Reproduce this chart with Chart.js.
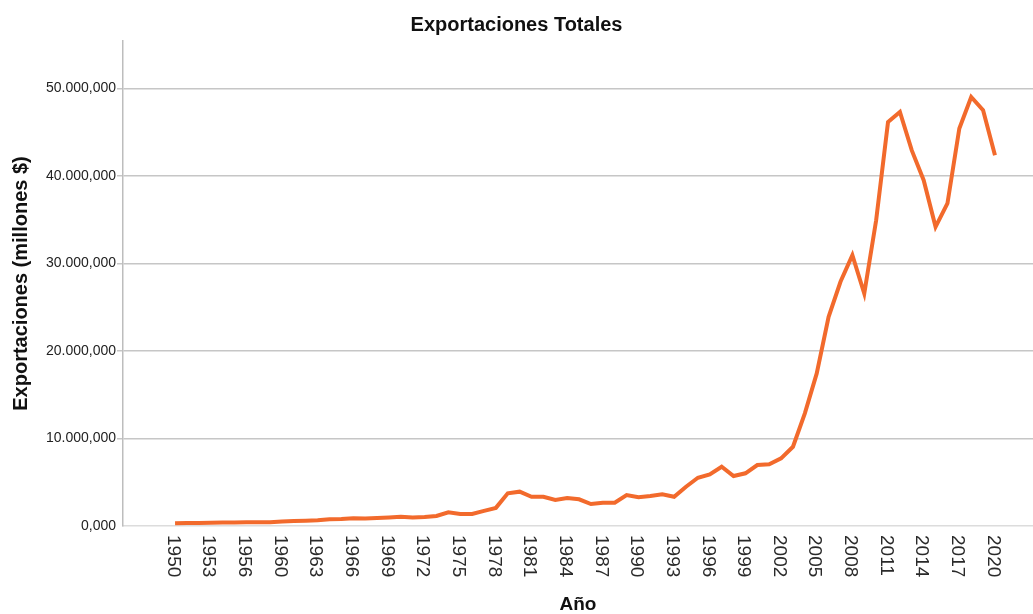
<!DOCTYPE html>
<html>
<head>
<meta charset="utf-8">
<title>Exportaciones Totales</title>
<script src="https://cdn.jsdelivr.net/npm/chart.js@4/dist/chart.umd.min.js"></script>
<style>
  html, body { margin: 0; padding: 0; background: #fff; }
  #wrap { width: 1033px; height: 614px; }
</style>
</head>
<body>
<div id="wrap"><canvas id="chart"></canvas></div>
<script>
// years on the category axis (1959 is absent in the source)
const years = [1950, 1951, 1952, 1953, 1954, 1955, 1956, 1957, 1958,
  1960, 1961, 1962, 1963, 1964, 1965, 1966, 1967, 1968, 1969,
  1970, 1971, 1972, 1973, 1974, 1975, 1976, 1977, 1978, 1979,
  1980, 1981, 1982, 1983, 1984, 1985, 1986, 1987, 1988, 1989,
  1990, 1991, 1992, 1993, 1994, 1995, 1996, 1997, 1998, 1999,
  2000, 2001, 2002, 2003, 2004, 2005, 2006, 2007, 2008, 2009,
  2010, 2011, 2012, 2013, 2014, 2015, 2016, 2017, 2018, 2019, 2020];

// exportaciones, millones $
const exportaciones = [310, 340, 340, 360, 390, 400, 420, 420, 420,
  510, 570, 600, 650, 760, 800, 880, 860, 910, 970,
  1060, 970, 1030, 1140, 1560, 1370, 1370, 1730, 2070, 3730,
  3920, 3340, 3340, 2970, 3200, 3050, 2510, 2660, 2660, 3540,
  3280, 3420, 3620, 3340, 4490, 5510, 5900, 6770, 5710, 6020,
  6960, 7040, 7730, 9050, 12870, 17430, 23900, 27900, 30940, 26560,
  34930, 46150, 47300, 42900, 39500, 34170, 36840, 45400, 49000, 47500, 42350];

const yTicks = [0, 10000, 20000, 30000, 40000, 50000];
const labelStep = 3;

const FONT = "'Liberation Sans', Arial, Helvetica, sans-serif";
const lineColor = "#f26a2c";

function fmt(v) {
  return Math.round(v).toString().replace(/\B(?=(\d{3})+(?!\d))/g, ".") + ",000";
}

// year labels rotated clockwise, drawn at the x scale's own positions
const rotatedLabels = {
  id: "rotatedLabels",
  afterDraw(chart) {
    const xs = chart.scales.x;
    const ctx = chart.ctx;
    ctx.save();
    ctx.font = "19px " + FONT;
    ctx.fillStyle = "#2a2a2a";
    ctx.textAlign = "left";
    ctx.textBaseline = "middle";
    for (let i = 0; i < years.length; i += labelStep) {
      const x = xs.getPixelForValue(i);
      ctx.save();
      ctx.translate(x - 2, xs.top + 9);
      ctx.rotate(Math.PI / 2);
      ctx.fillText(String(years[i]), 0, 0);
      ctx.restore();
    }
    ctx.restore();
  }
};

new Chart(document.getElementById("chart"), {
  type: "line",
  data: {
    datasets: [{
      label: "Exportaciones",
      data: exportaciones.map((v, i) => ({ x: i, y: v })),
      borderColor: lineColor,
      borderWidth: 4,
      pointRadius: 0,
      tension: 0,
      fill: false
    }]
  },
  options: {
    responsive: true,
    maintainAspectRatio: false,
    animation: false,
    layout: { padding: 0 },
    plugins: {
      legend: { display: false },
      tooltip: { enabled: false },
      title: {
        display: true,
        text: "Exportaciones Totales",
        color: "#111",
        font: { family: FONT, size: 20, weight: "bold", lineHeight: 1.1 },
        padding: { top: 14, bottom: 5 }
      }
    },
    scales: {
      x: {
        type: "linear",
        min: -4.38,
        max: 72.2,
        grid: { display: false, drawTicks: false },
        border: { display: true, color: "#dcdcdc", width: 1.5 },
        ticks: { display: false },
        afterFit(scale) { scale.height = 88; },
        title: {
          display: true,
          text: "Año",
          color: "#111",
          font: { family: FONT, size: 19, weight: "bold", lineHeight: 1 },
          padding: { top: 0, bottom: 0 }
        }
      },
      y: {
        min: 0,
        max: 55400,
        afterBuildTicks(scale) {
          scale.ticks = yTicks.map(v => ({ value: v }));
        },
        grid: {
          color: ctx => ctx.tick && ctx.tick.value === 0 ? "rgba(0,0,0,0)" : "#c6c6c6",
          lineWidth: 1.5,
          tickLength: 6,
          drawTicks: true
        },
        border: { display: true, color: "#bdbdbd", width: 1.5 },
        ticks: {
          color: "#222",
          padding: 1,
          font: { family: FONT, size: 14 },
          callback: v => fmt(v)
        },
        afterFit(scale) { scale.width = 123; },
        title: {
          display: true,
          text: "Exportaciones (millones $)",
          color: "#111",
          font: { family: FONT, size: 20, weight: "bold", lineHeight: 1.1 },
          padding: { top: 10, bottom: 0 }
        }
      }
    }
  },
  plugins: [rotatedLabels]
});
</script>
</body>
</html>
